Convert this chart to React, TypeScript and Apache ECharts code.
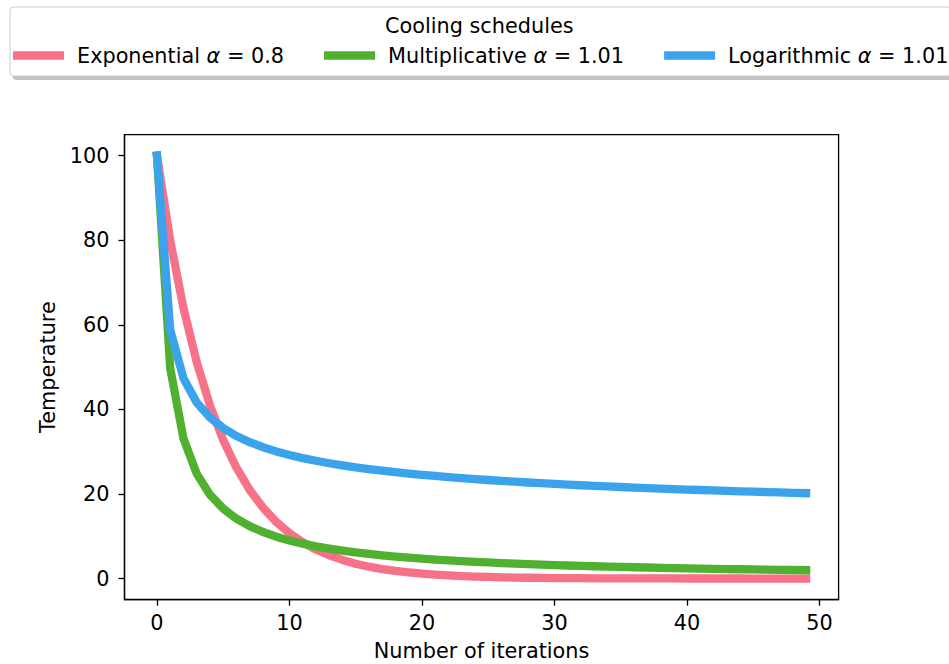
import React, { useEffect, useRef } from "react";
import * as echarts from "echarts";

const iterations = [
  0, 1, 2, 3, 4, 5, 6, 7, 8, 9, 10, 11, 12, 13, 14, 15, 16, 17, 18, 19, 20, 21, 22, 23, 24,
  25, 26, 27, 28, 29, 30, 31, 32, 33, 34, 35, 36, 37, 38, 39, 40, 41, 42, 43, 44, 45, 46, 47, 48, 49,
];

const exponential = [
  100, 80, 64, 51.2, 40.96, 32.77, 26.21, 20.97, 16.78, 13.42, 10.74, 8.59, 6.87, 5.5, 4.4,
  3.52, 2.81, 2.25, 1.8, 1.44, 1.15, 0.92, 0.74, 0.59, 0.47, 0.38, 0.3, 0.24, 0.19, 0.15, 0.12,
  0.1, 0.08, 0.06, 0.05, 0.04, 0.03, 0.03, 0.02, 0.02, 0.01, 0.01, 0.01, 0.01, 0.01, 0, 0, 0, 0, 0,
];

const multiplicative = [
  100, 49.75, 33.11, 24.81, 19.84, 16.53, 14.16, 12.39, 11.01, 9.91, 9.01, 8.26, 7.62, 7.08,
  6.61, 6.19, 5.83, 5.5, 5.21, 4.95, 4.72, 4.5, 4.31, 4.13, 3.96, 3.81, 3.67, 3.54, 3.42, 3.3,
  3.19, 3.09, 3.0, 2.91, 2.83, 2.75, 2.68, 2.61, 2.54, 2.48, 2.42, 2.36, 2.3, 2.25, 2.2, 2.15,
  2.11, 2.06, 2.02, 1.98,
];

const logarithmic = [
  100, 58.82, 47.4, 41.66, 38.09, 35.59, 33.72, 32.26, 31.06, 30.07, 29.22, 28.49, 27.85, 27.28,
  26.77, 26.31, 25.9, 25.51, 25.16, 24.84, 24.54, 24.26, 24.0, 23.75, 23.52, 23.31, 23.1, 22.91,
  22.72, 22.55, 22.38, 22.22, 22.07, 21.92, 21.78, 21.65, 21.52, 21.39, 21.28, 21.16, 21.05,
  20.94, 20.84, 20.74, 20.64, 20.55, 20.46, 20.37, 20.28, 20.2,
];

const seriesNames = ["Exponential α = 0.8", "Multiplicative α = 1.01", "Logarithmic α = 1.01"];
const seriesValues = [exponential, multiplicative, logarithmic];
const xTicks = [0, 10, 20, 30, 40, 50];
const yTicks = [0, 20, 40, 60, 80, 100];
const legendTitle = "Cooling schedules";
const xAxisTitle = "Number of iterations";
const yAxisTitle = "Temperature";

const COLORS = ["#f77189", "#50b131", "#3ba3ec"];
const FONT = "DejaVu Sans";
const FS = 20.8;

export default function App() {
  const ref = useRef<HTMLDivElement>(null);

  useEffect(() => {
    if (!ref.current) return;
    const chart = echarts.init(ref.current, null, { renderer: "svg" });

    const option: any = {
      animation: false,
      backgroundColor: "#ffffff",
      title: {
        text: legendTitle,
        left: 385,
        top: 15.5,
        padding: 0,
        textStyle: { fontFamily: FONT, fontSize: FS, fontWeight: "normal", color: "#000" },
      },
      graphic: [
        {
          type: "rect",
          z: 0,
          shape: { x: 12.5, y: 11, width: 942, height: 69, r: 4 },
          style: { fill: "#9a9a9a", opacity: 0.6 },
        },
        {
          type: "rect",
          z: 1,
          shape: { x: 10, y: 7, width: 942, height: 69, r: 4 },
          style: { fill: "#ffffff", stroke: "#cccccc", lineWidth: 1 },
        },
      ],
      legend: {
        orient: "horizontal",
        left: 13,
        top: 43.5,
        padding: 0,
        itemWidth: 51,
        itemHeight: 8.3,
        itemGap: 40,
        icon: "rect",
        selectedMode: false,
        data: seriesNames,
        formatter: (name: string) => {
          const parts = name.split("α");
          return `{s| }{t|${parts[0]}}{a|α}{t|${parts[1]}}`;
        },
        textStyle: {
          fontFamily: FONT,
          fontSize: FS,
          color: "#000",
          lineHeight: 24,
          rich: {
            s: { width: 8, fontSize: FS, fontFamily: FONT, lineHeight: 24 },
            t: { fontSize: FS, fontFamily: FONT, color: "#000", lineHeight: 24 },
            a: { fontSize: FS, fontFamily: FONT, fontStyle: "italic", color: "#000", lineHeight: 24 },
          },
        },
      },
      grid: {
        left: 124.5,
        right: 110.4,
        top: 134.6,
        bottom: 64.3,
        show: true,
        borderColor: "#000",
        borderWidth: 1.3,
        backgroundColor: "transparent",
        outerBoundsMode: "none",
        containLabel: false,
      },
      xAxis: {
        type: "value",
        min: -2.45,
        max: 51.45,
        name: xAxisTitle,
        nameLocation: "middle",
        nameGap: 41,
        nameTextStyle: { fontFamily: FONT, fontSize: FS, color: "#000" },
        splitLine: { show: false },
        axisLine: { show: true, onZero: false, lineStyle: { color: "#000", width: 1.3 } },
        axisTick: {
          show: true,
          length: 6,
          customValues: xTicks,
          lineStyle: { color: "#000", width: 1.3 },
        },
        axisLabel: {
          customValues: xTicks,
          margin: 13,
          fontFamily: FONT,
          fontSize: FS,
          color: "#000",
        },
      },
      yAxis: {
        type: "value",
        min: -5,
        max: 105,
        name: yAxisTitle,
        nameLocation: "middle",
        nameGap: 66,
        nameRotate: 90,
        nameTextStyle: { fontFamily: FONT, fontSize: FS, color: "#000" },
        splitLine: { show: false },
        axisLine: { show: true, onZero: false, lineStyle: { color: "#000", width: 1.3 } },
        axisTick: {
          show: true,
          length: 6,
          customValues: yTicks,
          lineStyle: { color: "#000", width: 1.3 },
        },
        axisLabel: {
          customValues: yTicks,
          margin: 15,
          fontFamily: FONT,
          fontSize: FS,
          color: "#000",
        },
      },
      series: seriesNames.map((name, si) => ({
        name,
        type: "line",
        data: seriesValues[si].map((v, i) => [iterations[i], v]),
        showSymbol: false,
        symbol: "none",
        color: COLORS[si],
        lineStyle: { color: COLORS[si], width: 8.3, cap: "square", join: "round" },
        z: 2 + si,
      })),
    };

    chart.setOption(option);
    return () => chart.dispose();
  }, []);

  return <div ref={ref} style={{ width: 949, height: 664, position: "absolute", left: 0, top: 0 }} />;
}
